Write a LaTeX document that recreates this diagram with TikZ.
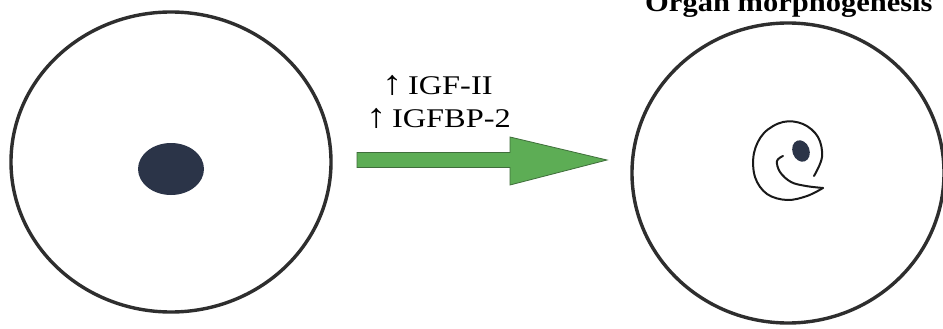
\documentclass[tikz,border=0pt]{standalone}
\usepackage{fontspec}
\setmainfont{Liberation Serif}
\usetikzlibrary{shapes.geometric}
\definecolor{rimgray}{HTML}{2E2E2E}
\definecolor{nucleusblue}{HTML}{2B3448}
\definecolor{arrowgreen}{HTML}{5DAD55}
\definecolor{arrowedge}{HTML}{3F6E3B}
\newcommand{\uparr}{{\fontsize{34}{34}\selectfont ↑}}
\begin{document}
\begin{tikzpicture}[x=1pt,y=-1pt,
  cellrim/.style={draw=rimgray, line width=3.4pt, ellipse, inner sep=0pt},
  nucleus/.style={fill=nucleusblue},
  embryo/.style={draw=black!90, line width=2pt, line cap=round, line join=round},
  label/.style={font=\fontsize{27}{30}\selectfont, inner sep=0pt, xscale=1.2, anchor=base west},
  heading/.style={font=\fontsize{27}{30}\selectfont\bfseries, inner sep=0pt, xscale=1.13, anchor=base west}]
\useasboundingbox (0,0) rectangle (943,329);
\fill[white] (0,0) rectangle (943,329);

% left cell: egg with a single nucleus
\node[cellrim, minimum width=320pt, minimum height=300pt] (egg) at (171,162) {};
\fill[nucleus] (171,169) ellipse [x radius=33, y radius=26];

% right cell: curled embryo
\node[cellrim, minimum width=312pt, minimum height=300pt] (cell) at (788,173) {};
\draw[embryo] plot[smooth, tension=0.6] coordinates {
  (814,176) (822,157) (818,137) (803,124) (783,122) (764,133) (754,153)
  (755,177) (767,194) (787,200) (807,196) (823,188)};
\draw[embryo] plot[smooth, tension=0.6] coordinates {
  (823,188) (806,186) (791,182) (780,172) (777,161) (783,156)};
\fill[nucleus, rotate around={20:(801,151)}] (801,151) ellipse [x radius=8.5, y radius=11];

% heading above the right cell
\node[heading] (title) at (645,12) {Organ morphogenesis};

% block arrow between the cells
\coordinate (tailtop) at (357,152.5);
\coordinate (tailbot) at (357,167.5);
\coordinate (tip) at (607,160);
\draw[fill=arrowgreen, draw=arrowedge, line width=0.8pt]
  (tailtop) -- (510,152.5) -- (510,137) -- (tip) -- (510,185)
  -- (510,167.5) -- (tailbot) -- cycle;

% factors raised during the transition
\node[label] (igf) at (382,95) {\uparr\,IGF-II};
\node[label] (bp) at (366,127) {\uparr\,IGFBP-2};
\end{tikzpicture}
\end{document}
